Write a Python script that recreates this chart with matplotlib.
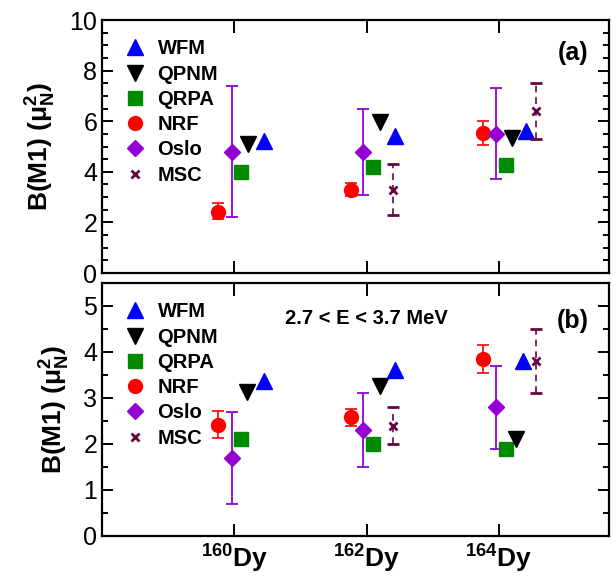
import numpy as np
import matplotlib
matplotlib.use("Agg")
import matplotlib.pyplot as plt
from matplotlib.lines import Line2D
from matplotlib.ticker import MultipleLocator

plt.rcParams['font.family'] = ['Liberation Sans', 'DejaVu Sans']
plt.rcParams['mathtext.fontset'] = 'custom'
plt.rcParams['mathtext.rm'] = 'Liberation Sans'
plt.rcParams['mathtext.bf'] = 'Liberation Sans:bold'
plt.rcParams['mathtext.it'] = 'Liberation Sans:italic'
plt.rcParams['mathtext.default'] = 'regular'

# ---------------- data ----------------
nuclei = ["160", "162", "164"]
tick_labels = [r"$^{160}$Dy", r"$^{162}$Dy", r"$^{164}$Dy"]

# panel (a): total B(M1)
a_wfm = [5.2, 5.4, 5.6]
a_qpnm = [5.1, 5.95, 5.33]
a_qrpa = [4.0, 4.2, 4.25]
a_nrf = [2.43, 3.29, 5.53]
a_nrf_lo = [2.14, 3.05, 5.07]
a_nrf_hi = [2.76, 3.55, 6.0]
a_oslo = [4.8, 4.8, 5.5]
a_oslo_lo = [2.2, 3.1, 3.7]
a_oslo_hi = [7.4, 6.5, 7.3]
a_msc = [np.nan, 3.3, 6.4]
a_msc_lo = [np.nan, 2.3, 5.3]
a_msc_hi = [np.nan, 4.3, 7.5]

# panel (b): 2.7 < E < 3.7 MeV
b_wfm = [3.36, 3.6, 3.81]
b_qpnm = [3.14, 3.26, 2.1]
b_qrpa = [2.1, 2.0, 1.9]
b_nrf = [2.41, 2.59, 3.84]
b_nrf_lo = [2.12, 2.40, 3.54]
b_nrf_hi = [2.71, 2.77, 4.15]
b_oslo = [1.7, 2.3, 2.8]
b_oslo_lo = [0.7, 1.5, 1.9]
b_oslo_hi = [2.7, 3.1, 3.7]
b_msc = [np.nan, 2.4, 3.8]
b_msc_lo = [np.nan, 2.0, 3.1]
b_msc_hi = [np.nan, 2.8, 4.5]

# ---------------- layout ----------------
base = np.arange(1, len(nuclei) + 1, dtype=float)
off = {
    "NRF": [-0.12, -0.12, -0.125],
    "Oslo": [-0.02, -0.025, -0.02],
    "QRPA": [0.05, 0.05, 0.05],
    "QPNM": [0.10, 0.10, 0.095],
    "WFM": [0.225, 0.21, 0.20],
    "MSC": [0.20, 0.20, 0.28],
}
off_b = dict(off)
off_b["QPNM"] = [0.095, 0.10, 0.13]
off_b["WFM"] = [0.225, 0.21, 0.18]

C_WFM = "#0000ff"
C_QPNM = "#000000"
C_QRPA = "#008a00"
C_NRF = "#ff0000"
C_OSLO = "#9400d3"
C_MSC = "#66063f"

fig = plt.figure(figsize=(6.16, 5.80), dpi=100)
ax_a = fig.add_axes([0.1656, 0.5293, 0.8230, 0.4362])
ax_b = fig.add_axes([0.1656, 0.0759, 0.8230, 0.4362])


def draw(ax, offs, wfm, qpnm, qrpa, nrf, nlo, nhi, oslo, olo, ohi, msc, mlo, mhi):
    x = lambda k: base + np.array(offs[k])
    nrf = np.array(nrf); oslo = np.array(oslo); msc = np.array(msc)
    ax.errorbar(x("NRF"), nrf, yerr=[nrf - np.array(nlo), np.array(nhi) - nrf],
                fmt="o", color=C_NRF, ms=10, elinewidth=1.2, capsize=4, capthick=1.2, zorder=3)
    ax.errorbar(x("Oslo"), oslo, yerr=[oslo - np.array(olo), np.array(ohi) - oslo],
                fmt="D", color=C_OSLO, ms=8, elinewidth=1.3, capsize=4, capthick=1.3, zorder=3)
    ax.plot(x("QRPA"), qrpa, "s", color=C_QRPA, ms=9.5, zorder=3)
    ax.plot(x("QPNM"), qpnm, "v", color=C_QPNM, ms=12, zorder=3)
    ax.plot(x("WFM"), wfm, "^", color=C_WFM, ms=12, zorder=3)
    eb = ax.errorbar(x("MSC"), msc, yerr=[msc - np.array(mlo), np.array(mhi) - msc],
                     fmt="x", color=C_MSC, ms=6, mew=2, elinewidth=1.2, capsize=4, capthick=1.2, zorder=3)
    eb[2][0].set_linestyle((0, (4, 3)))

    handles = [
        Line2D([], [], ls="none", marker="^", color=C_WFM, ms=12),
        Line2D([], [], ls="none", marker="v", color=C_QPNM, ms=12),
        Line2D([], [], ls="none", marker="s", color=C_QRPA, ms=9.5),
        Line2D([], [], ls="none", marker="o", color=C_NRF, ms=10),
        Line2D([], [], ls="none", marker="D", color=C_OSLO, ms=8),
        Line2D([], [], ls="none", marker="x", color=C_MSC, ms=6, mew=2),
    ]
    ax.legend(handles, ["WFM", "QPNM", "QRPA", "NRF", "Oslo", "MSC"],
              loc="upper left", bbox_to_anchor=(0.03, 0.955), frameon=False,
              prop={"weight": "bold", "size": 14.5}, handlelength=1.0,
              handletextpad=0.6, labelspacing=0.31, borderaxespad=0.0)

    ax.set_xlim(0.0, 3.83)
    ax.set_xticks(base)
    for s in ax.spines.values():
        s.set_linewidth(1.6)
    ax.tick_params(axis="both", which="both", direction="in", top=True, right=True,
                   width=1.4, labelsize=18)
    ax.tick_params(which="major", length=8)
    ax.tick_params(which="minor", length=4.5)
    ax.tick_params(axis="x", which="major", length=9)
    ax.set_ylabel(r"B(M1) ($\mu_{\mathbf{N}}^{\mathbf{2}}$)", fontsize=19,
                  fontweight="bold", labelpad=8)


draw(ax_a, off, a_wfm, a_qpnm, a_qrpa, a_nrf, a_nrf_lo, a_nrf_hi,
     a_oslo, a_oslo_lo, a_oslo_hi, a_msc, a_msc_lo, a_msc_hi)
draw(ax_b, off_b, b_wfm, b_qpnm, b_qrpa, b_nrf, b_nrf_lo, b_nrf_hi,
     b_oslo, b_oslo_lo, b_oslo_hi, b_msc, b_msc_lo, b_msc_hi)

ax_a.set_ylim(0, 10)
ax_a.yaxis.set_major_locator(MultipleLocator(2))
ax_a.yaxis.set_minor_locator(MultipleLocator(0.5))
ax_a.set_xticklabels([])
ax_a.text(3.56, 8.7, "(a)", fontsize=18, fontweight="bold", ha="center", va="center")

ax_b.set_ylim(0, 5.5)
ax_b.yaxis.set_major_locator(MultipleLocator(1))
ax_b.yaxis.set_minor_locator(MultipleLocator(0.5))
ax_b.set_xticklabels(tick_labels, fontsize=19, fontweight="bold")
ax_b.tick_params(axis="x", pad=5)
ax_b.text(3.56, 4.67, "(b)", fontsize=18, fontweight="bold", ha="center", va="center")
ax_b.text(2.0, 4.72, "2.7 < E < 3.7 MeV", fontsize=14.5, fontweight="bold", ha="center", va="center")

fig.savefig("out.png", dpi=100)
